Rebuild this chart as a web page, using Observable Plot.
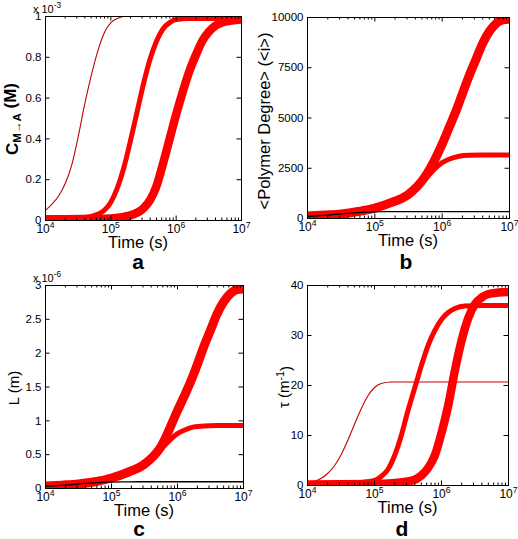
<!DOCTYPE html>
<html><head><meta charset="utf-8">
<script src="https://cdn.jsdelivr.net/npm/d3@7"></script>
<script src="https://cdn.jsdelivr.net/npm/@observablehq/plot@0.6"></script>
<style>
html,body{margin:0;padding:0;background:#fff}
body{width:518px;height:539px;position:relative;overflow:hidden;font-family:"Liberation Sans",Arial,sans-serif}
.panel{position:absolute}
.panel svg{overflow:visible}
</style></head><body>
<div id="pa" class="panel" style="left:0px;top:0px"></div>
<div id="pb" class="panel" style="left:259px;top:0px"></div>
<div id="pc" class="panel" style="left:0px;top:270px"></div>
<div id="pd" class="panel" style="left:259px;top:270px"></div>
<script>
// ---------- shared axis data ----------
const timeTicks = [1e4, 1e5, 1e6, 1e7];
const minorTicks = [2e4,3e4,4e4,5e4,6e4,7e4,8e4,9e4,2e5,3e5,4e5,5e5,6e5,7e5,8e5,9e5,2e6,3e6,4e6,5e6,6e6,7e6,8e6,9e6];

// ---------- panel a : C_{M->A} (x 1e-3 M) ----------
const aTicks = [0, 0.2, 0.4, 0.6, 0.8, 1];
const aThinLogT = [4.0,4.1,4.2,4.3,4.4,4.5,4.6,4.7,4.8,4.9,5.0,5.1,5.2,5.4,7.0];
const aThinC    = [0.05,0.08,0.12,0.18,0.27,0.41,0.57,0.71,0.83,0.92,0.97,0.99,1.0,1.0,1.0];
const aMedLogT  = [4.0,4.5,4.7,4.8,4.9,5.0,5.1,5.2,5.3,5.4,5.5,5.6,5.7,5.8,5.9,6.0,6.2,7.0];
const aMedC     = [0.01,0.012,0.02,0.03,0.05,0.09,0.16,0.26,0.39,0.53,0.67,0.79,0.88,0.94,0.97,0.985,0.99,0.99];
const aThickLogT= [4.0,5.0,5.3,5.5,5.6,5.7,5.8,5.9,6.0,6.1,6.2,6.3,6.4,6.5,6.6,6.7,6.85,7.0];
const aThickC   = [0.006,0.01,0.025,0.06,0.1,0.17,0.28,0.4,0.52,0.63,0.73,0.81,0.88,0.925,0.955,0.97,0.98,0.985];

// ---------- panel b : <Polymer Degree> ----------
const bTicks = [0, 2500, 5000, 7500, 10000];
const bBlackLogT = [4.0,4.3,4.6,4.8,5.0,5.2,5.4,7.0];
const bBlackN    = [100,170,250,300,330,340,345,345];
const bThickLogT = [4.0,4.25,4.5,4.75,5.0,5.25,5.5,5.75,6.0,6.1,6.2,6.3,6.4,6.5,6.6,6.7,6.8,6.9,7.0];
const bThickN    = [120,170,230,350,520,800,1200,2100,3700,4500,5300,6200,7100,7900,8700,9300,9700,9880,9920];
const bMedLogT   = [4.0,4.25,4.5,4.75,5.0,5.25,5.5,5.65,5.8,5.9,6.0,6.1,6.25,6.4,6.6,7.0];
const bMedN      = [110,160,220,340,500,780,1170,1600,2150,2500,2780,2950,3100,3150,3160,3160];

// ---------- panel c : L (x 1e-6 m) ----------
const cTicks = [0, 0.5, 1, 1.5, 2, 2.5, 3];
const cBlackLogT = [4.0,4.3,4.6,4.8,5.0,5.2,5.4,7.0];
const cBlackL    = [0.03,0.05,0.075,0.088,0.095,0.098,0.1,0.1];
const cThickLogT = [4.0,4.25,4.5,4.75,5.0,5.25,5.5,5.75,6.0,6.1,6.2,6.3,6.4,6.5,6.6,6.7,6.8,6.9,7.0];
const cThickL    = [0.035,0.05,0.068,0.10,0.155,0.24,0.36,0.62,1.15,1.36,1.58,1.83,2.1,2.34,2.58,2.76,2.88,2.94,2.95];
const cMedLogT   = [4.0,4.25,4.5,4.75,5.0,5.25,5.5,5.65,5.8,5.9,6.0,6.1,6.25,6.4,6.6,7.0];
const cMedL      = [0.033,0.048,0.065,0.1,0.15,0.23,0.35,0.47,0.63,0.73,0.81,0.86,0.91,0.925,0.93,0.93];

// ---------- panel d : tau (1/m) ----------
const dTicks = [0, 10, 20, 30, 40];
const dThinLogT  = [4.0,4.2,4.3,4.4,4.5,4.6,4.7,4.8,4.9,5.0,5.1,5.25,7.0];
const dThinTau   = [0.5,1.4,2.4,3.9,6.1,9.0,12.2,15.3,17.9,19.6,20.4,20.7,20.7];
const dMedLogT   = [4.0,4.5,4.8,5.0,5.1,5.2,5.3,5.4,5.5,5.6,5.7,5.8,5.9,6.0,6.1,6.2,6.35,6.6,7.0];
const dMedTau    = [0.3,0.4,0.6,1.0,1.8,3.2,6.0,10,15,19.5,24,28,31,33.2,34.6,35.4,35.9,36,36];
const dThickLogT = [4.0,5.0,5.5,5.7,5.8,5.9,6.0,6.1,6.2,6.3,6.4,6.5,6.6,6.7,6.85,7.0];
const dThickTau  = [0.2,0.3,0.8,2.0,3.5,6,10.5,16,23,29,33.5,36.3,37.6,38.3,38.6,38.7];

const RED = "#ff0000", DARKRED = "#c00000", BLACK = "#000000";
const FONT = "'Liberation Sans', Arial, sans-serif";

function series(logT, vals, color, width) {
  return {rows: logT.map((e, i) => ({t: Math.pow(10, e), v: vals[i]})), color, width};
}

function build(p) {
  const [mT, mR, mB, mL] = p.m;
  const iw = p.W - mL - mR, ih = p.H - mT - mB;
  const marks = [];
  for (const s of p.lines) {
    marks.push(Plot.line(s.rows, {x: "t", y: "v", stroke: s.color, strokeWidth: s.width,
      curve: "monotone-x", clip: true, strokeLinecap: "butt", strokeLinejoin: "round"}));
  }
  marks.push(Plot.tickX(minorTicks, {x: d => d, insetTop: ih - 2.5, stroke: BLACK, strokeWidth: 1}));
  marks.push(Plot.tickX(minorTicks, {x: d => d, insetBottom: ih - 2.5, stroke: BLACK, strokeWidth: 1}));
  marks.push(Plot.tickX(timeTicks, {x: d => d, insetTop: ih - 4.5, stroke: BLACK, strokeWidth: 1}));
  marks.push(Plot.tickX(timeTicks, {x: d => d, insetBottom: ih - 4.5, stroke: BLACK, strokeWidth: 1}));
  marks.push(Plot.tickY(p.yTicks, {y: d => d, insetRight: iw - 4.5, stroke: BLACK, strokeWidth: 1}));
  marks.push(Plot.tickY(p.yTicks, {y: d => d, insetLeft: iw - 4.5, stroke: BLACK, strokeWidth: 1}));
  marks.push(Plot.frame({stroke: BLACK, strokeWidth: 1}));
  marks.push(Plot.axisX({ticks: timeTicks, tickSize: 0, tickPadding: 4, fontSize: 12, label: null,
    tickFormat: d => "10^" + Math.round(Math.log10(d))}));
  marks.push(Plot.axisY({ticks: p.yTicks, tickSize: 0, tickPadding: 4, fontSize: 11.5, label: null,
    tickFormat: p.yFmt}));
  const svg = Plot.plot({
    width: p.W, height: p.H,
    marginTop: mT, marginRight: mR, marginBottom: mB, marginLeft: mL,
    x: {type: "log", domain: [1e4, 1e7]},
    y: {domain: p.yDomain},
    style: {fontFamily: FONT, fontSize: "12px", color: "#000", background: "transparent", overflow: "visible"},
    marks
  });
  const S = d3.select(svg);
  // superscript exponents on the log tick labels
  S.selectAll('g[aria-label="x-axis tick label"] text').each(function () {
    const txt = this.textContent;
    const parts = txt.split("^");
    const el = d3.select(this);
    el.text(parts[0]);
    el.append("tspan").attr("dy", "-0.55em").attr("font-size", "0.72em").text(parts[1]);
  });
  S.selectAll('g[aria-label="x-axis tick label"], g[aria-label="y-axis tick label"]').attr("fill", "#000");
  const g = S.append("g").attr("fill", "#000").attr("font-family", FONT);
  const fcx = mL + iw / 2;
  // x label
  g.append("text").attr("x", p.xLabelX ?? fcx).attr("y", mT + ih + 27.5)
    .attr("text-anchor", "middle").attr("font-size", 16.5).text("Time (s)");
  // panel letter
  g.append("text").attr("x", p.letterX).attr("y", p.letterY)
    .attr("text-anchor", "middle").attr("font-size", 21).attr("font-weight", "bold").text(p.letter);
  // multiplier
  if (p.mult) {
    const t = g.append("text").attr("x", mL + 2).attr("y", mT - 3.5).attr("font-size", 11).text("x 10");
    t.append("tspan").attr("dy", "-0.55em").attr("font-size", "0.75em").text(p.mult);
  }
  p.yLabel(g);
  document.getElementById(p.id).appendChild(svg);
}

build({
  id: "pa", W: 259, H: 270, m: [16, 18, 50, 45],
  yDomain: [0, 1], yTicks: aTicks, yFmt: d => String(d),
  lines: [
    series(aThinLogT, aThinC, DARKRED, 1.1),
    series(aMedLogT, aMedC, RED, 5),
    series(aThickLogT, aThickC, RED, 8.5)
  ],
  letter: "a", letterX: 138, letterY: 269, xLabelX: 138, mult: "-3",
  yLabel: g => {
    const t = g.append("text").attr("transform", "translate(17.5,119) rotate(-90)")
      .attr("text-anchor", "middle").attr("font-size", 17).attr("font-weight", "bold").text("C");
    t.append("tspan").attr("dy", "0.3em").attr("font-size", "0.68em").text("M\u2192A");
    t.append("tspan").attr("dy", "-0.3em").text(" (M)");
  }
});

build({
  id: "pb", W: 259, H: 270, m: [17, 9, 52, 48],
  yDomain: [0, 10000], yTicks: bTicks, yFmt: d => String(d),
  lines: [
    series(bMedLogT, bMedN, RED, 5),
    series(bThickLogT, bThickN, RED, 9),
    series(bBlackLogT, bBlackN, BLACK, 1.3)
  ],
  letter: "b", letterX: 147, letterY: 269,
  yLabel: g => {
    g.append("text").attr("transform", "translate(11,121) rotate(-90)")
      .attr("text-anchor", "middle").attr("font-size", 16.5).text("<Polymer Degree> (<i>)");
  }
});

build({
  id: "pc", W: 259, H: 269, m: [15, 16, 51, 45],
  yDomain: [0, 3], yTicks: cTicks, yFmt: d => String(d),
  lines: [
    series(cMedLogT, cMedL, RED, 5),
    series(cThickLogT, cThickL, RED, 9),
    series(cBlackLogT, cBlackL, BLACK, 1.3)
  ],
  letter: "c", letterX: 139, letterY: 266, mult: "-6",
  yLabel: g => {
    g.append("text").attr("transform", "translate(18.5,118) rotate(-90)")
      .attr("text-anchor", "middle").attr("font-size", 15).text("L (m)");
  }
});

build({
  id: "pd", W: 259, H: 269, m: [15, 10, 54, 48],
  yDomain: [0, 40], yTicks: dTicks, yFmt: d => String(d),
  lines: [
    series(dThinLogT, dThinTau, DARKRED, 1.1),
    series(dMedLogT, dMedTau, RED, 5),
    series(dThickLogT, dThickTau, RED, 8.5)
  ],
  letter: "d", letterX: 143, letterY: 266,
  yLabel: g => {
    const t = g.append("text").attr("transform", "translate(30,117) rotate(-90)")
      .attr("text-anchor", "middle").attr("font-size", 15).text("\u03c4 (m");
    t.append("tspan").attr("dy", "-0.45em").attr("font-size", "0.72em").text("-1");
    t.append("tspan").attr("dy", "0.45em").text(")");
  }
});
</script>
</body></html>
